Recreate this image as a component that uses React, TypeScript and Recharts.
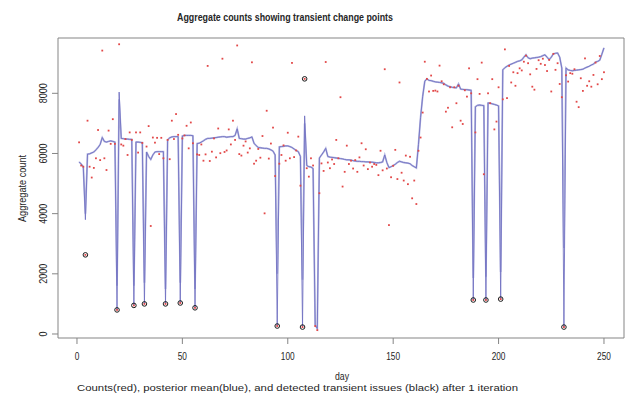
import React from "react";
import {
  ComposedChart,
  Line,
  Scatter,
  XAxis,
  YAxis,
  ReferenceArea,
} from "recharts";

// Daily aggregate counts (red points), day 1..250
const counts: number[] = [
  6370, 5600, 5560, 2630, 7090, 5560, 5200, 5520, 5840, 6780,
  5780, 9420, 5840, 5450, 6760, 6320, 7140, 6320, 800, 9630,
  6300, 6260, 6480, 5950, 6700, 6450, 950, 6700, 6030, 6700,
  6350, 1000, 6230, 6910, 3590, 6530, 6360, 6520, 5980, 6520,
  5840, 1000, 6450, 5810, 7090, 6480, 7310, 6620, 1030, 6500,
  6600, 6920, 6170, 7030, 6340, 870, 5970, 5950, 6300, 5760,
  5970, 8910, 5750, 6060, 6500, 5870, 6830, 6010, 9150, 6050,
  6100, 6800, 6300, 7090, 6450, 9590, 5980, 5930, 6260, 6400,
  6030, 6170, 9030, 5660, 5760, 6150, 5860, 6580, 4010, 7420,
  5830, 6330, 6860, 5250, 265, 5660, 5950, 6270, 5760, 6690,
  5840, 9010, 5880, 6100, 6560, 4930, 230, 8480, 5510, 5230,
  5840, 5600, 265, 130, 4680, 5670, 5420, 9040, 5700, 5510,
  5800, 5650, 6450, 5840, 7870, 4900, 5390, 6260, 5650, 5760,
  5500, 5780, 5390, 5870, 6340, 5600, 6140, 5480, 5700, 5560,
  5650, 5620, 5280, 6090, 5440, 8800, 5500, 3620, 5210, 5590,
  6120, 5150, 8360, 5360, 5100, 5930, 4980, 5890, 4510, 5100,
  4320, 6090, 6530, 7360, 9050, 8480, 8060, 8590, 8080, 8090,
  8060, 8920, 8400, 8300, 7390, 7520, 8200, 6870, 8200, 7670,
  8250, 7090, 6980, 8100, 7890, 8830, 8000, 1130, 6700, 8470,
  7980, 9020, 5310, 1130, 8000, 7670, 8470, 6800, 7060, 8200,
  1160, 7800, 9460, 7840, 8910, 8360, 8700, 8250, 8670, 8830,
  8760, 9050, 9250, 9000, 8630, 8220, 8120, 8810, 9100, 8980,
  9150, 8940, 8740, 9110, 8060, 9310, 8780, 9000, 8310, 7870,
  230, 8600, 8390, 8670, 8650, 8800, 7720, 7540, 8500, 8080,
  9160, 8250, 8400, 8220, 8610, 9020, 8300, 9240, 8470, 8700,
];

// Posterior mean (blue), day 1..250
const posteriorMean: number[] = [
  5720, 5650, 5560, 3800, 5980, 5990, 6020, 6050, 6120, 6200,
  6300, 6530, 6400, 6380, 6400, 6420, 6400, 6380, 800, 8040,
  6500, 6490, 6480, 6480, 6470, 6470, 950, 6380, 6380, 6370,
  6360, 1000, 6050, 5900, 5800, 5950, 6050, 6060, 6060, 6060,
  6060, 1000, 6450, 6520, 6550, 6560, 6560, 6560, 1030, 6580,
  6600, 6600, 6600, 6600, 6590, 870, 6330, 6340, 6380, 6420,
  6470, 6500, 6500, 6510, 6520, 6530, 6540, 6550, 6560, 6560,
  6540, 6550, 6560, 6560, 6600, 6820, 6500, 6490, 6480, 6480,
  6500, 6520, 6550, 6340, 6260, 6200, 6190, 6180, 6170, 6170,
  6150, 6120, 6080, 5950, 265, 6220, 6230, 6240, 6250, 6250,
  6230, 6200, 6150, 6100, 6060, 5900, 230, 7250, 5600, 5560,
  5550, 5500, 300, 180, 5850, 5950, 6050, 6170, 5900, 5880,
  5870, 5860, 5850, 5840, 5830, 5820, 5800, 5790, 5790, 5780,
  5760, 5750, 5740, 5740, 5730, 5730, 5720, 5720, 5710, 5710,
  5700, 5690, 5690, 5700, 5720, 5950, 5700, 5530, 5560, 5600,
  5640, 5700, 5740, 5720, 5700, 5690, 5680, 5660, 5600, 5560,
  5520, 6300, 7200, 7900, 8400, 8480, 8430, 8420, 8400, 8380,
  8370, 8360, 8350, 8330, 8280, 8240, 8220, 8200, 8190, 8180,
  8310, 8140, 8130, 8120, 8120, 8110, 8100, 1130, 7550, 7600,
  7610, 7600, 7590, 1130, 7680, 7670, 7650, 7630, 7610, 7580,
  1160, 8780, 8850, 8900, 8940, 8970, 9000, 9030, 9060, 9080,
  9110, 9200, 9280, 9180, 9150, 9170, 9180, 9190, 9200, 9220,
  9250, 9280, 9200, 9120, 9200, 9310, 9330, 9340, 9200, 8840,
  230, 8840, 8780, 8760, 8750, 8760, 8770, 8780, 8790, 8800,
  8840, 8870, 8900, 8940, 8970, 9040, 9060, 9100, 9300, 9510,
];

// Lighter companion line differs from the mean only at these days
const lightDays: number[] = [4, 19, 20, 27, 32, 42, 49, 56, 95, 107, 108, 188, 194, 201, 231];
const lightValues: number[] = [4000, 1600, 7800, 1600, 1700, 1500, 1700, 1500, 2000, 1800, 7000, 1860, 1900, 2060, 2860];

// Detected transient issues (black circles)
const transientDays: number[] = [4, 19, 27, 32, 42, 49, 56, 95, 107, 108, 188, 194, 201, 231];

const xTicks: number[] = [0, 50, 100, 150, 200, 250];
const yTicks: number[] = [0, 2000, 4000, 6000, 8000];

const tableData = counts.map((c, i) => {
  const day = i + 1;
  const li = lightDays.indexOf(day);
  return {
    day,
    count: c,
    mean: posteriorMean[i],
    light: li >= 0 ? lightValues[li] : posteriorMean[i],
  };
});

const circleData = transientDays.map((d) => ({ day: d, count: counts[d - 1] }));

const FONT = "'Liberation Sans', Arial, Helvetica, sans-serif";
const GRAY = "#858585";
const TEXT = "#262626";

const XTick = (props: any) => {
  const { x, y, payload } = props;
  const s = String(payload.value);
  return (
    <text
      x={x}
      y={y + 14}
      textAnchor="middle"
      fontSize={10}
      fontFamily={FONT}
      fill={TEXT}
      textLength={s.length * 4.6}
      lengthAdjust="spacingAndGlyphs"
    >
      {s}
    </text>
  );
};

const YTick = (props: any) => {
  const { x, y, payload } = props;
  const s = String(payload.value);
  const bx = x - 3;
  return (
    <text
      x={bx}
      y={y}
      transform={`rotate(-90, ${bx}, ${y})`}
      textAnchor="middle"
      fontSize={10}
      fontFamily={FONT}
      fill={TEXT}
      textLength={s.length * 5}
      lengthAdjust="spacingAndGlyphs"
    >
      {s}
    </text>
  );
};

const RedDot = (props: any) => {
  const { cx, cy } = props;
  if (cx == null || cy == null) return null;
  return <rect x={cx - 0.9} y={cy - 0.9} width={1.8} height={1.8} fill="#e24848" />;
};

const OpenCircle = (props: any) => {
  const { cx, cy } = props;
  if (cx == null || cy == null) return null;
  return <circle cx={cx} cy={cy} r={2.3} fill="none" stroke="#1a1a1a" strokeWidth={1} />;
};

export default function App() {
  return (
    <div style={{ position: "absolute", left: 0, top: 0, width: 626, height: 394, background: "#fff" }}>
      <ComposedChart
        width={626}
        height={394}
        data={tableData}
        margin={{ top: 38, right: 2, bottom: 0, left: 0 }}
      >
        <XAxis
          dataKey="day"
          type="number"
          domain={[-9, 259.5]}
          allowDataOverflow
          ticks={xTicks}
          height={56}
          axisLine={false}
          tickLine={{ stroke: GRAY }}
          tickSize={6}
          tickMargin={2}
          tick={<XTick />}
          interval={0}
        />
        <YAxis
          type="number"
          domain={[-133, 9838]}
          allowDataOverflow
          ticks={yTicks}
          width={58}
          axisLine={false}
          tickLine={{ stroke: GRAY }}
          tickSize={6}
          tickMargin={2}
          tick={<YTick />}
          interval={0}
        />
        <ReferenceArea
          x1={-9}
          x2={259.5}
          y1={-133}
          y2={9838}
          fill="none"
          fillOpacity={0}
          stroke={GRAY}
          strokeWidth={1}
        />
        <Scatter dataKey="count" shape={<RedDot />} isAnimationActive={false} />
        <Line
          type="linear"
          dataKey="light"
          stroke="#b3b5e0"
          strokeWidth={1.8}
          dot={false}
          activeDot={false}
          isAnimationActive={false}
        />
        <Line
          type="linear"
          dataKey="mean"
          stroke="#7272c2"
          strokeWidth={0.9}
          dot={false}
          activeDot={false}
          isAnimationActive={false}
        />
        <Scatter data={circleData} dataKey="count" shape={<OpenCircle />} isAnimationActive={false} />
      </ComposedChart>
      <svg
        width={626}
        height={394}
        style={{ position: "absolute", left: 0, top: 0, pointerEvents: "none" }}
      >
        <text
          x={177}
          y={21}
          fontSize={10.5}
          fontWeight="bold"
          fontFamily={FONT}
          fill={TEXT}
          textLength={216}
          lengthAdjust="spacingAndGlyphs"
        >
          Aggregate counts showing transient change points
        </text>
        <text
          x={26}
          y={188.5}
          transform="rotate(-90, 26, 188.5)"
          textAnchor="middle"
          fontSize={10}
          fontFamily={FONT}
          fill={TEXT}
          textLength={67}
          lengthAdjust="spacingAndGlyphs"
        >
          Aggregate count
        </text>
        <text
          x={342}
          y={380}
          textAnchor="middle"
          fontSize={10}
          fontFamily={FONT}
          fill={TEXT}
          textLength={14}
          lengthAdjust="spacingAndGlyphs"
        >
          day
        </text>
        <text
          x={77}
          y={391}
          fontSize={9.5}
          fontFamily={FONT}
          fill={TEXT}
          textLength={441}
          lengthAdjust="spacingAndGlyphs"
        >
          Counts(red), posterior mean(blue), and detected transient issues (black)  after 1 iteration
        </text>
      </svg>
    </div>
  );
}
